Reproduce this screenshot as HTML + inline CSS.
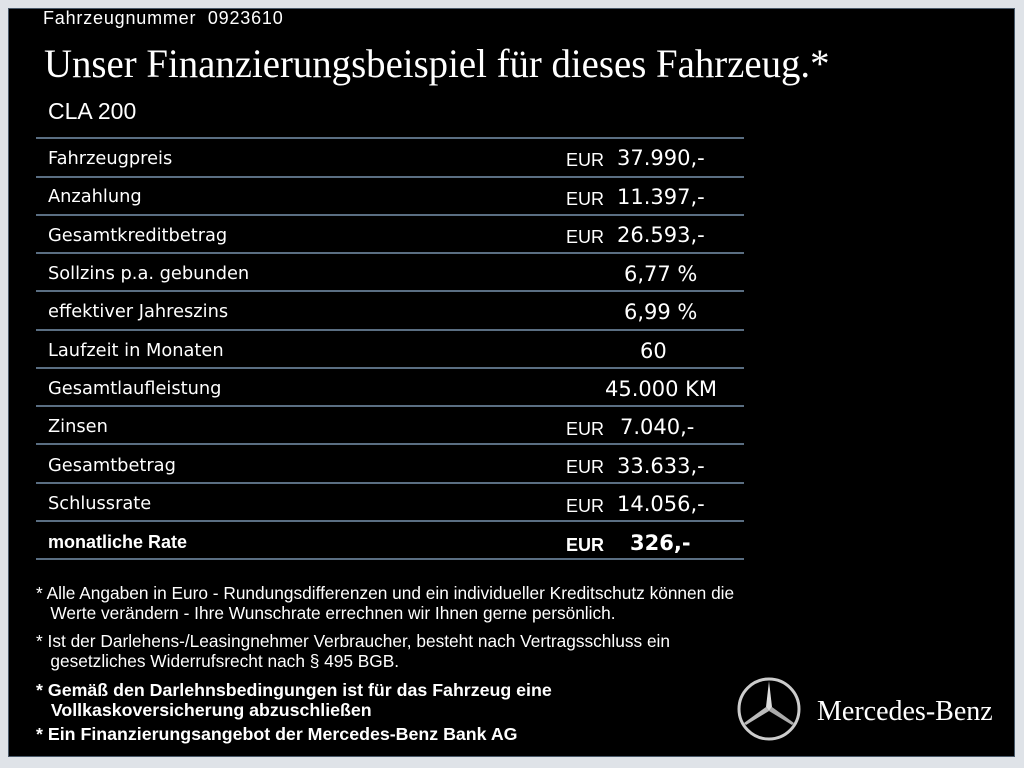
<!DOCTYPE html>
<html><head><meta charset="utf-8"><style>
body{margin:0;width:1024px;height:768px;background:#dfe3e8;position:relative;overflow:hidden;font-family:"Liberation Sans",sans-serif;}
#p{position:absolute;left:8px;top:8px;width:1007px;height:749px;background:#000;border:1px solid #4a5a6a;box-sizing:border-box;}
.t{position:absolute;color:#fff;white-space:nowrap;}
.l{position:absolute;left:36px;width:708px;height:2px;background:#5a6e82;}
.lab{position:absolute;left:48px;color:#fff;font-size:17.8px;font-family:"DejaVu Sans",sans-serif;}
.v{position:absolute;color:#fff;font-size:21px;font-family:"DejaVu Sans",sans-serif;}
.e{position:absolute;left:566px;color:#fff;font-size:18px;}
.f{position:absolute;left:36px;color:#fff;font-size:17.3px;line-height:20px;white-space:nowrap;}
</style></head><body>
<div id="p"></div>
<div class="t" style="left:43px;top:8px;font-size:18px;letter-spacing:0.8px">Fahrzeugnummer&nbsp; 0923610</div>
<div class="t" style="left:44px;top:40px;font-size:40px;font-family:'Liberation Serif',serif;transform:scaleX(0.97);transform-origin:left">Unser Finanzierungsbeispiel für dieses Fahrzeug.*</div>
<div class="t" style="left:48px;top:98px;font-size:23px">CLA 200</div>
<div class="l" style="top:137px"></div><div class="l" style="top:176px"></div><div class="l" style="top:214px"></div><div class="l" style="top:252px"></div><div class="l" style="top:290px"></div><div class="l" style="top:329px"></div><div class="l" style="top:367px"></div><div class="l" style="top:405px"></div><div class="l" style="top:443px"></div><div class="l" style="top:482px"></div><div class="l" style="top:520px"></div><div class="l" style="top:558px"></div>
<div class="lab" style="top:148px">Fahrzeugpreis</div><div class="e" style="top:150px">EUR</div><div class="v" style="left:617px;top:146px">37.990,-</div>
<div class="lab" style="top:186px">Anzahlung</div><div class="e" style="top:189px">EUR</div><div class="v" style="left:617px;top:185px">11.397,-</div>
<div class="lab" style="top:225px">Gesamtkreditbetrag</div><div class="e" style="top:227px">EUR</div><div class="v" style="left:617px;top:223px">26.593,-</div>
<div class="lab" style="top:263px">Sollzins p.a. gebunden</div><div class="v" style="left:624px;top:262px">6,77 %</div>
<div class="lab" style="top:301px">effektiver Jahreszins</div><div class="v" style="left:624px;top:300px">6,99 %</div>
<div class="lab" style="top:340px">Laufzeit in Monaten</div><div class="v" style="left:640px;top:339px">60</div>
<div class="lab" style="top:378px">Gesamtlaufleistung</div><div class="v" style="left:605px;top:377px">45.000 KM</div>
<div class="lab" style="top:416px">Zinsen</div><div class="e" style="top:419px">EUR</div><div class="v" style="left:620px;top:415px">7.040,-</div>
<div class="lab" style="top:455px">Gesamtbetrag</div><div class="e" style="top:457px">EUR</div><div class="v" style="left:617px;top:454px">33.633,-</div>
<div class="lab" style="top:493px">Schlussrate</div><div class="e" style="top:496px">EUR</div><div class="v" style="left:617px;top:492px">14.056,-</div>
<div class="lab" style="top:532px;font-weight:bold;font-family:'Liberation Sans',sans-serif;font-size:18px">monatliche Rate</div><div class="e" style="top:535px;font-weight:bold">EUR</div><div class="v" style="left:630px;top:531px;font-weight:bold">326,-</div>
<div class="f" style="top:583px">* Alle Angaben in Euro - Rundungsdifferenzen und ein individueller Kreditschutz können die<br>&nbsp;&nbsp;&nbsp;Werte verändern - Ihre Wunschrate errechnen wir Ihnen gerne persönlich.</div>
<div class="f" style="top:631px">* Ist der Darlehens-/Leasingnehmer Verbraucher, besteht nach Vertragsschluss ein<br>&nbsp;&nbsp;&nbsp;gesetzliches Widerrufsrecht nach § 495 BGB.</div>
<div class="f" style="top:680px;font-weight:bold;font-size:17.8px">* Gemäß den Darlehnsbedingungen ist für das Fahrzeug eine<br>&nbsp;&nbsp;&nbsp;Vollkaskoversicherung abzuschließen</div>
<div class="f" style="top:724px;font-weight:bold;font-size:17.8px">* Ein Finanzierungsangebot der Mercedes-Benz Bank AG</div>
<svg style="position:absolute;left:736px;top:676px" width="66" height="66" viewBox="0 0 66 66">
<circle cx="33" cy="33" r="30" fill="none" stroke="#ccc" stroke-width="3"/>
<polygon points="33,5 36,31 33,35 30,31" fill="#ddd"/>
<polygon points="33,35 36,31 58,47 56,49" fill="#aaa"/>
<polygon points="33,35 30,31 8,47 10,49" fill="#bbb"/>
</svg>
<div class="t" style="left:817px;top:696px;font-size:28px;font-family:'Liberation Serif',serif">Mercedes-Benz</div>
</body></html>
